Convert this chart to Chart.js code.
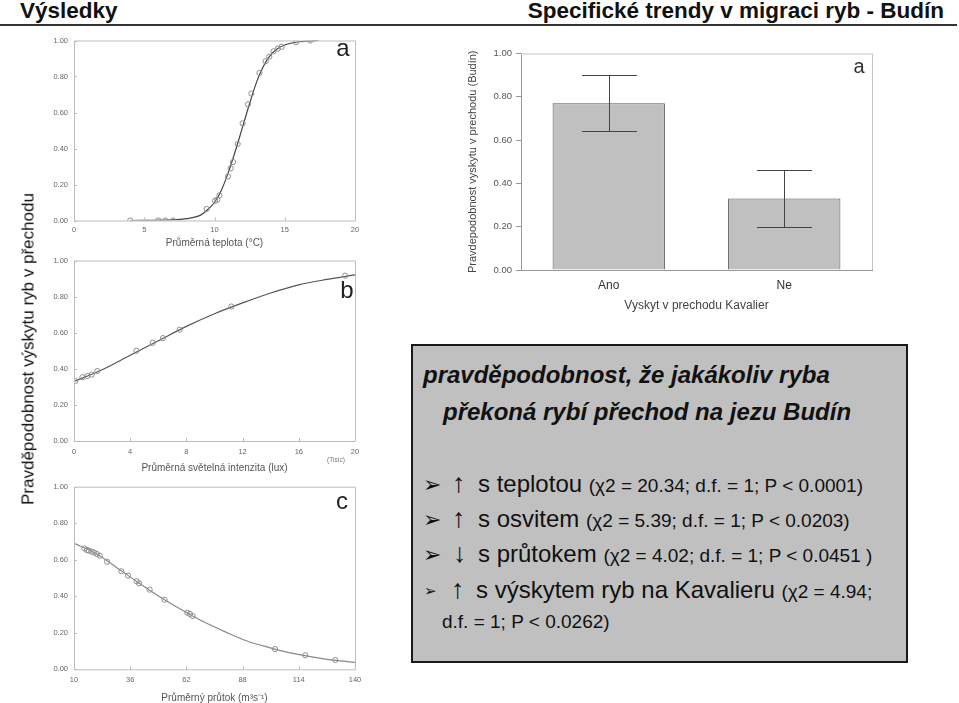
<!DOCTYPE html>
<html lang="cs">
<head>
<meta charset="UTF-8">
<title>Výsledky - Budín</title>
<script src="https://cdn.jsdelivr.net/npm/chart.js"></script>
<style>
    body {
        margin: 0;
        width: 959px;
        height: 703px;
        overflow: hidden;
        background: #fff;
        position: relative;
        font-family: "Liberation Sans", Arial, sans-serif;
    }

    canvas {
        position: absolute;
    }

    .abs {
        position: absolute;
        white-space: nowrap;
        line-height: 1;
        z-index: 2;
    }

    .title {
        font-size: 22.5px;
        font-weight: bold;
        color: #111;
    }

    .letter {
        font-size: 24px;
        color: #222;
        transform: translate(-50%, -50%);
    }

    #box {
        position: absolute;
        left: 411px;
        top: 344px;
        width: 497px;
        height: 319px;
        box-sizing: border-box;
        border: 2px solid #1a1a1a;
        background: #c0c0c0;
        z-index: 1;
    }

    .head {
        font-size: 24px;
        font-weight: bold;
        font-style: italic;
        color: #111;
    }

    .item {
        font-size: 24px;
        line-height: 24px;
        color: #111;
    }

    .item small {
        font-size: 19px;
    }

    .bullet {
        font-family: "DejaVu Sans", sans-serif;
        font-size: 22px;
        color: #111;
    }

    .arrow {
        font-size: 27px;
        color: #111;
    }
</style>
</head>
<body>
    <div class="abs title" style="left:20px; top:0px">Výsledky</div>
    <div class="abs title" style="right:15px; top:0px">Specifické trendy v migraci ryb - Budín</div>
    <div class="abs" style="left:0; top:24px; width:957px; height:2px; background:#333"></div>

    <canvas id="chA" width="370" height="222" style="left:0; top:30px"></canvas>
    <canvas id="chB" width="370" height="230" style="left:0; top:250px"></canvas>
    <canvas id="chC" width="370" height="240" style="left:0; top:470px"></canvas>
    <canvas id="chBar" width="440" height="290" style="left:440px; top:30px"></canvas>

    <div class="abs" style="left:28px; top:349px; font-size:17px; color:#111; transform:translate(-50%,-50%) rotate(-90deg)">Pravděpodobnost výskytu ryb v přechodu</div>
    <div class="abs letter" style="left:343px; top:48px">a</div>
    <div class="abs letter" style="left:347px; top:290px">b</div>
    <div class="abs letter" style="left:342px; top:501px">c</div>
    <div class="abs letter" style="left:859px; top:66px; font-size:20px; color:#333">a</div>
    <div class="abs" style="left:336px; top:460px; font-size:6.5px; color:#777; transform:translate(-50%,-50%)">(Tisíc)</div>

    <div id="box"></div>
    <div class="abs head" style="left:423px; top:363px">pravděpodobnost, že jakákoliv ryba</div>
    <div class="abs head" style="left:443px; top:400px">překoná rybí přechod na jezu Budín</div>

    <div class="abs bullet" style="left:423px; top:474px">➢</div>
    <div class="abs arrow" style="left:452px; top:470px">↑</div>
    <div class="abs item" style="left:478px; top:472px">s teplotou <small>(χ2 = 20.34; d.f. = 1; P &lt; 0.0001)</small></div>

    <div class="abs bullet" style="left:423px; top:509px">➢</div>
    <div class="abs arrow" style="left:452px; top:505px">↑</div>
    <div class="abs item" style="left:478px; top:507px">s osvitem <small>(χ2 = 5.39; d.f. = 1; P &lt; 0.0203)</small></div>

    <div class="abs bullet" style="left:423px; top:544px">➢</div>
    <div class="abs arrow" style="left:453px; top:540px">↓</div>
    <div class="abs item" style="left:478px; top:542px">s průtokem <small>(χ2 = 4.02; d.f. = 1; P &lt; 0.0451 )</small></div>

    <div class="abs bullet" style="left:424px; top:584px; font-size:15px">➢</div>
    <div class="abs arrow" style="left:451px; top:576px">↑</div>
    <div class="abs item" style="left:476px; top:578px">s výskytem ryb na Kavalieru <small>(χ2 = 4.94;</small></div>
    <div class="abs item" style="left:442px; top:612px; font-size:19px; line-height:19px">d.f. = 1; P &lt; 0.0262)</div>

    <script>
        // a: teplota
        const tempX = [4.0, 6.0, 6.5, 7.05, 9.44, 10.04, 10.2, 10.35, 10.96, 11.15, 11.32, 11.65, 12.0, 12.38, 12.62, 13.2, 13.64, 13.9, 14.2, 14.5, 14.78, 15.8, 16.82];
        const tempY = [0.0, 0.0, 0.0, 0.0, 0.064, 0.11, 0.115, 0.14, 0.245, 0.29, 0.325, 0.425, 0.54, 0.645, 0.705, 0.82, 0.885, 0.91, 0.94, 0.955, 0.965, 0.99, 1.0];
        const tempCurveX = [4, 7, 8, 9, 9.5, 10, 10.5, 11, 11.5, 12, 12.5, 13, 13.5, 14, 14.5, 15, 16, 17.4];
        const tempCurveY = [0.0, 0.003, 0.01, 0.03, 0.06, 0.1, 0.17, 0.27, 0.39, 0.52, 0.65, 0.77, 0.86, 0.92, 0.955, 0.975, 0.993, 1.0];

        // b: svetelna intenzita (tisic lux)
        const luxX = [0.1, 0.6, 0.95, 1.26, 1.66, 4.44, 5.6, 6.33, 7.52, 11.2, 19.3];
        const luxY = [0.333, 0.353, 0.36, 0.368, 0.388, 0.5, 0.544, 0.57, 0.617, 0.745, 0.916];
        const luxCurveX = [0, 2, 4, 6, 8, 10, 12, 14, 16, 18, 20];
        const luxCurveY = [0.33, 0.395, 0.475, 0.555, 0.635, 0.705, 0.765, 0.82, 0.865, 0.895, 0.92];

        // c: prutok
        const flowX = [14.8, 16.0, 16.9, 18.2, 19.4, 20.6, 22.0, 25.3, 31.9, 35.0, 39.0, 40.1, 45.0, 51.9, 62.4, 63.6, 64.9, 103.0, 117.0, 130.9];
        const flowY = [0.662, 0.653, 0.65, 0.644, 0.639, 0.631, 0.622, 0.589, 0.537, 0.513, 0.482, 0.471, 0.436, 0.381, 0.31, 0.303, 0.292, 0.111, 0.077, 0.051];
        const flowCurveX = [10, 20, 30, 40, 50, 60, 70, 80, 90, 100, 110, 120, 130, 140];
        const flowCurveY = [0.69, 0.635, 0.555, 0.473, 0.395, 0.325, 0.26, 0.205, 0.155, 0.12, 0.09, 0.068, 0.05, 0.038];

        // sloupce: vyskyt na Kavalieru
        const barLabels = ['Ano', 'Ne'];
        const barValues = [0.77, 0.33];
        const barLow = [0.64, 0.20];
        const barHigh = [0.90, 0.46];

        const zip = (xs, ys) => xs.map((x, i) => ({ x: x, y: ys[i] }));

        const framePlugin = {
            id: 'frame',
            afterDraw(chart, args, opts) {
                const { ctx, chartArea: a, scales } = chart;
                ctx.save();
                ctx.strokeStyle = opts.color;
                ctx.lineWidth = 1;
                ctx.beginPath();
                if (opts.full) {
                    ctx.rect(a.left + 0.5, a.top + 0.5, a.right - a.left, a.bottom - a.top);
                    scales.x.ticks.forEach(t => {
                        const px = Math.round(scales.x.getPixelForValue(t.value)) + 0.5;
                        ctx.moveTo(px, a.bottom);
                        ctx.lineTo(px, a.bottom - 3);
                    });
                    scales.y.ticks.forEach(t => {
                        const py = Math.round(scales.y.getPixelForValue(t.value)) + 0.5;
                        ctx.moveTo(a.left, py);
                        ctx.lineTo(a.left + 3, py);
                    });
                } else {
                    ctx.moveTo(a.left, a.top + 0.5);
                    ctx.lineTo(a.right + 0.5, a.top + 0.5);
                    ctx.lineTo(a.right + 0.5, a.bottom);
                }
                ctx.stroke();
                ctx.restore();
            }
        };

        function smallPanel(id, cfg) {
            return new Chart(document.getElementById(id), {
                type: 'scatter',
                data: {
                    datasets: [{
                        data: zip(cfg.curveX, cfg.curveY),
                        showLine: true,
                        pointRadius: 0,
                        borderColor: cfg.lineColor,
                        borderWidth: 1.2,
                        cubicInterpolationMode: 'monotone',
                        order: 2
                    }, {
                        data: zip(cfg.x, cfg.y),
                        pointRadius: 2.6,
                        borderColor: '#8e8e8e',
                        backgroundColor: 'rgba(0,0,0,0)',
                        borderWidth: 1,
                        order: 1
                    }]
                },
                options: {
                    responsive: false,
                    animation: false,
                    layout: { padding: { left: 0, top: cfg.top, right: 15, bottom: 0 } },
                    plugins: {
                        legend: { display: false },
                        tooltip: { enabled: false },
                        frame: { color: '#bdbdbd', full: true }
                    },
                    scales: {
                        x: {
                            type: 'linear',
                            min: cfg.xMin,
                            max: cfg.xMax,
                            grid: { display: false, drawTicks: false },
                            border: { display: false },
                            ticks: {
                                stepSize: cfg.xStep,
                                padding: cfg.labelPad,
                                color: '#666',
                                font: { family: 'Liberation Sans', size: 7.5 },
                                maxRotation: 0
                            },
                            title: {
                                display: true,
                                text: cfg.xTitle,
                                color: '#555',
                                font: { family: 'Liberation Sans', size: 10 },
                                padding: { top: 0, bottom: cfg.titlePad }
                            },
                            afterFit: s => { s.height = cfg.xHeight; }
                        },
                        y: {
                            min: 0,
                            max: 1,
                            grid: { display: false, drawTicks: false },
                            border: { display: false },
                            ticks: {
                                stepSize: 0.2,
                                padding: 6,
                                color: '#666',
                                font: { family: 'Liberation Sans', size: 7.5 },
                                callback: v => v.toFixed(2)
                            },
                            afterFit: s => { s.width = 74; }
                        }
                    }
                },
                plugins: [framePlugin]
            });
        }

        smallPanel('chA', {
            x: tempX, y: tempY, curveX: tempCurveX, curveY: tempCurveY,
            lineColor: '#444', xMin: 0, xMax: 20, xStep: 5,
            xTitle: 'Průměrná teplota (°C)',
            top: 7.5, xHeight: 31.5, labelPad: 5, titlePad: 3
        });

        smallPanel('chB', {
            x: luxX, y: luxY, curveX: luxCurveX, curveY: luxCurveY,
            lineColor: '#555', xMin: 0, xMax: 20, xStep: 4,
            xTitle: 'Průměrná světelná intenzita (lux)',
            top: 9, xHeight: 39, labelPad: 6.5, titlePad: 6
        });

        smallPanel('chC', {
            x: flowX, y: flowY, curveX: flowCurveX, curveY: flowCurveY,
            lineColor: '#888', xMin: 10, xMax: 140, xStep: 26,
            xTitle: 'Průměrný průtok (m³s⁻¹)',
            top: 16.7, xHeight: 40.7, labelPad: 6, titlePad: 6
        });

        const errorBars = {
            id: 'errorBars',
            afterDatasetsDraw(chart) {
                const { ctx, scales } = chart;
                const meta = chart.getDatasetMeta(0);
                ctx.save();
                ctx.strokeStyle = '#444';
                ctx.lineWidth = 1;
                meta.data.forEach((bar, i) => {
                    const yTop = Math.round(scales.y.getPixelForValue(barHigh[i])) + 0.5;
                    const yBot = Math.round(scales.y.getPixelForValue(barLow[i])) + 0.5;
                    const x = Math.round(bar.x) + 0.5;
                    const half = bar.width * 0.245;
                    ctx.beginPath();
                    ctx.moveTo(x, yTop);
                    ctx.lineTo(x, yBot);
                    ctx.moveTo(x - half, yTop);
                    ctx.lineTo(x + half, yTop);
                    ctx.moveTo(x - half, yBot);
                    ctx.lineTo(x + half, yBot);
                    ctx.stroke();
                });
                ctx.restore();
            }
        };

        new Chart(document.getElementById('chBar'), {
            type: 'bar',
            data: {
                labels: barLabels,
                datasets: [{
                    data: barValues,
                    backgroundColor: '#c0c0c0',
                    borderColor: '#555',
                    borderWidth: 1,
                    barPercentage: 0.64,
                    categoryPercentage: 1
                }]
            },
            options: {
                responsive: false,
                animation: false,
                layout: { padding: { left: 0, top: 23.5, right: 8, bottom: 0 } },
                plugins: {
                    legend: { display: false },
                    tooltip: { enabled: false },
                    frame: { color: '#c4c4c4', full: false }
                },
                scales: {
                    x: {
                        grid: { display: false, drawTicks: false },
                        border: { color: '#999' },
                        ticks: {
                            padding: 8.8,
                            color: '#333',
                            font: { family: 'Liberation Sans', size: 12 }
                        },
                        title: {
                            display: true,
                            text: 'Vyskyt v prechodu Kavalier',
                            color: '#444',
                            font: { family: 'Liberation Sans', size: 12 },
                            padding: { top: 0, bottom: 6.8 }
                        },
                        afterFit: s => { s.height = 50; }
                    },
                    y: {
                        min: 0,
                        max: 1,
                        grid: { drawOnChartArea: false, drawTicks: true, tickLength: 5, color: '#999' },
                        border: { color: '#999' },
                        ticks: {
                            stepSize: 0.2,
                            padding: 4,
                            color: '#555',
                            font: { family: 'Liberation Sans', size: 9.5 },
                            callback: v => v.toFixed(2)
                        },
                        title: {
                            display: true,
                            text: 'Pravdepodobnost vyskytu v prechodu (Budín)',
                            color: '#444',
                            font: { family: 'Liberation Sans', size: 11 },
                            padding: { top: 26.4, bottom: 0 }
                        },
                        afterFit: s => { s.width = 81; }
                    }
                }
            },
            plugins: [framePlugin, errorBars]
        });
    </script>
</body>
</html>
